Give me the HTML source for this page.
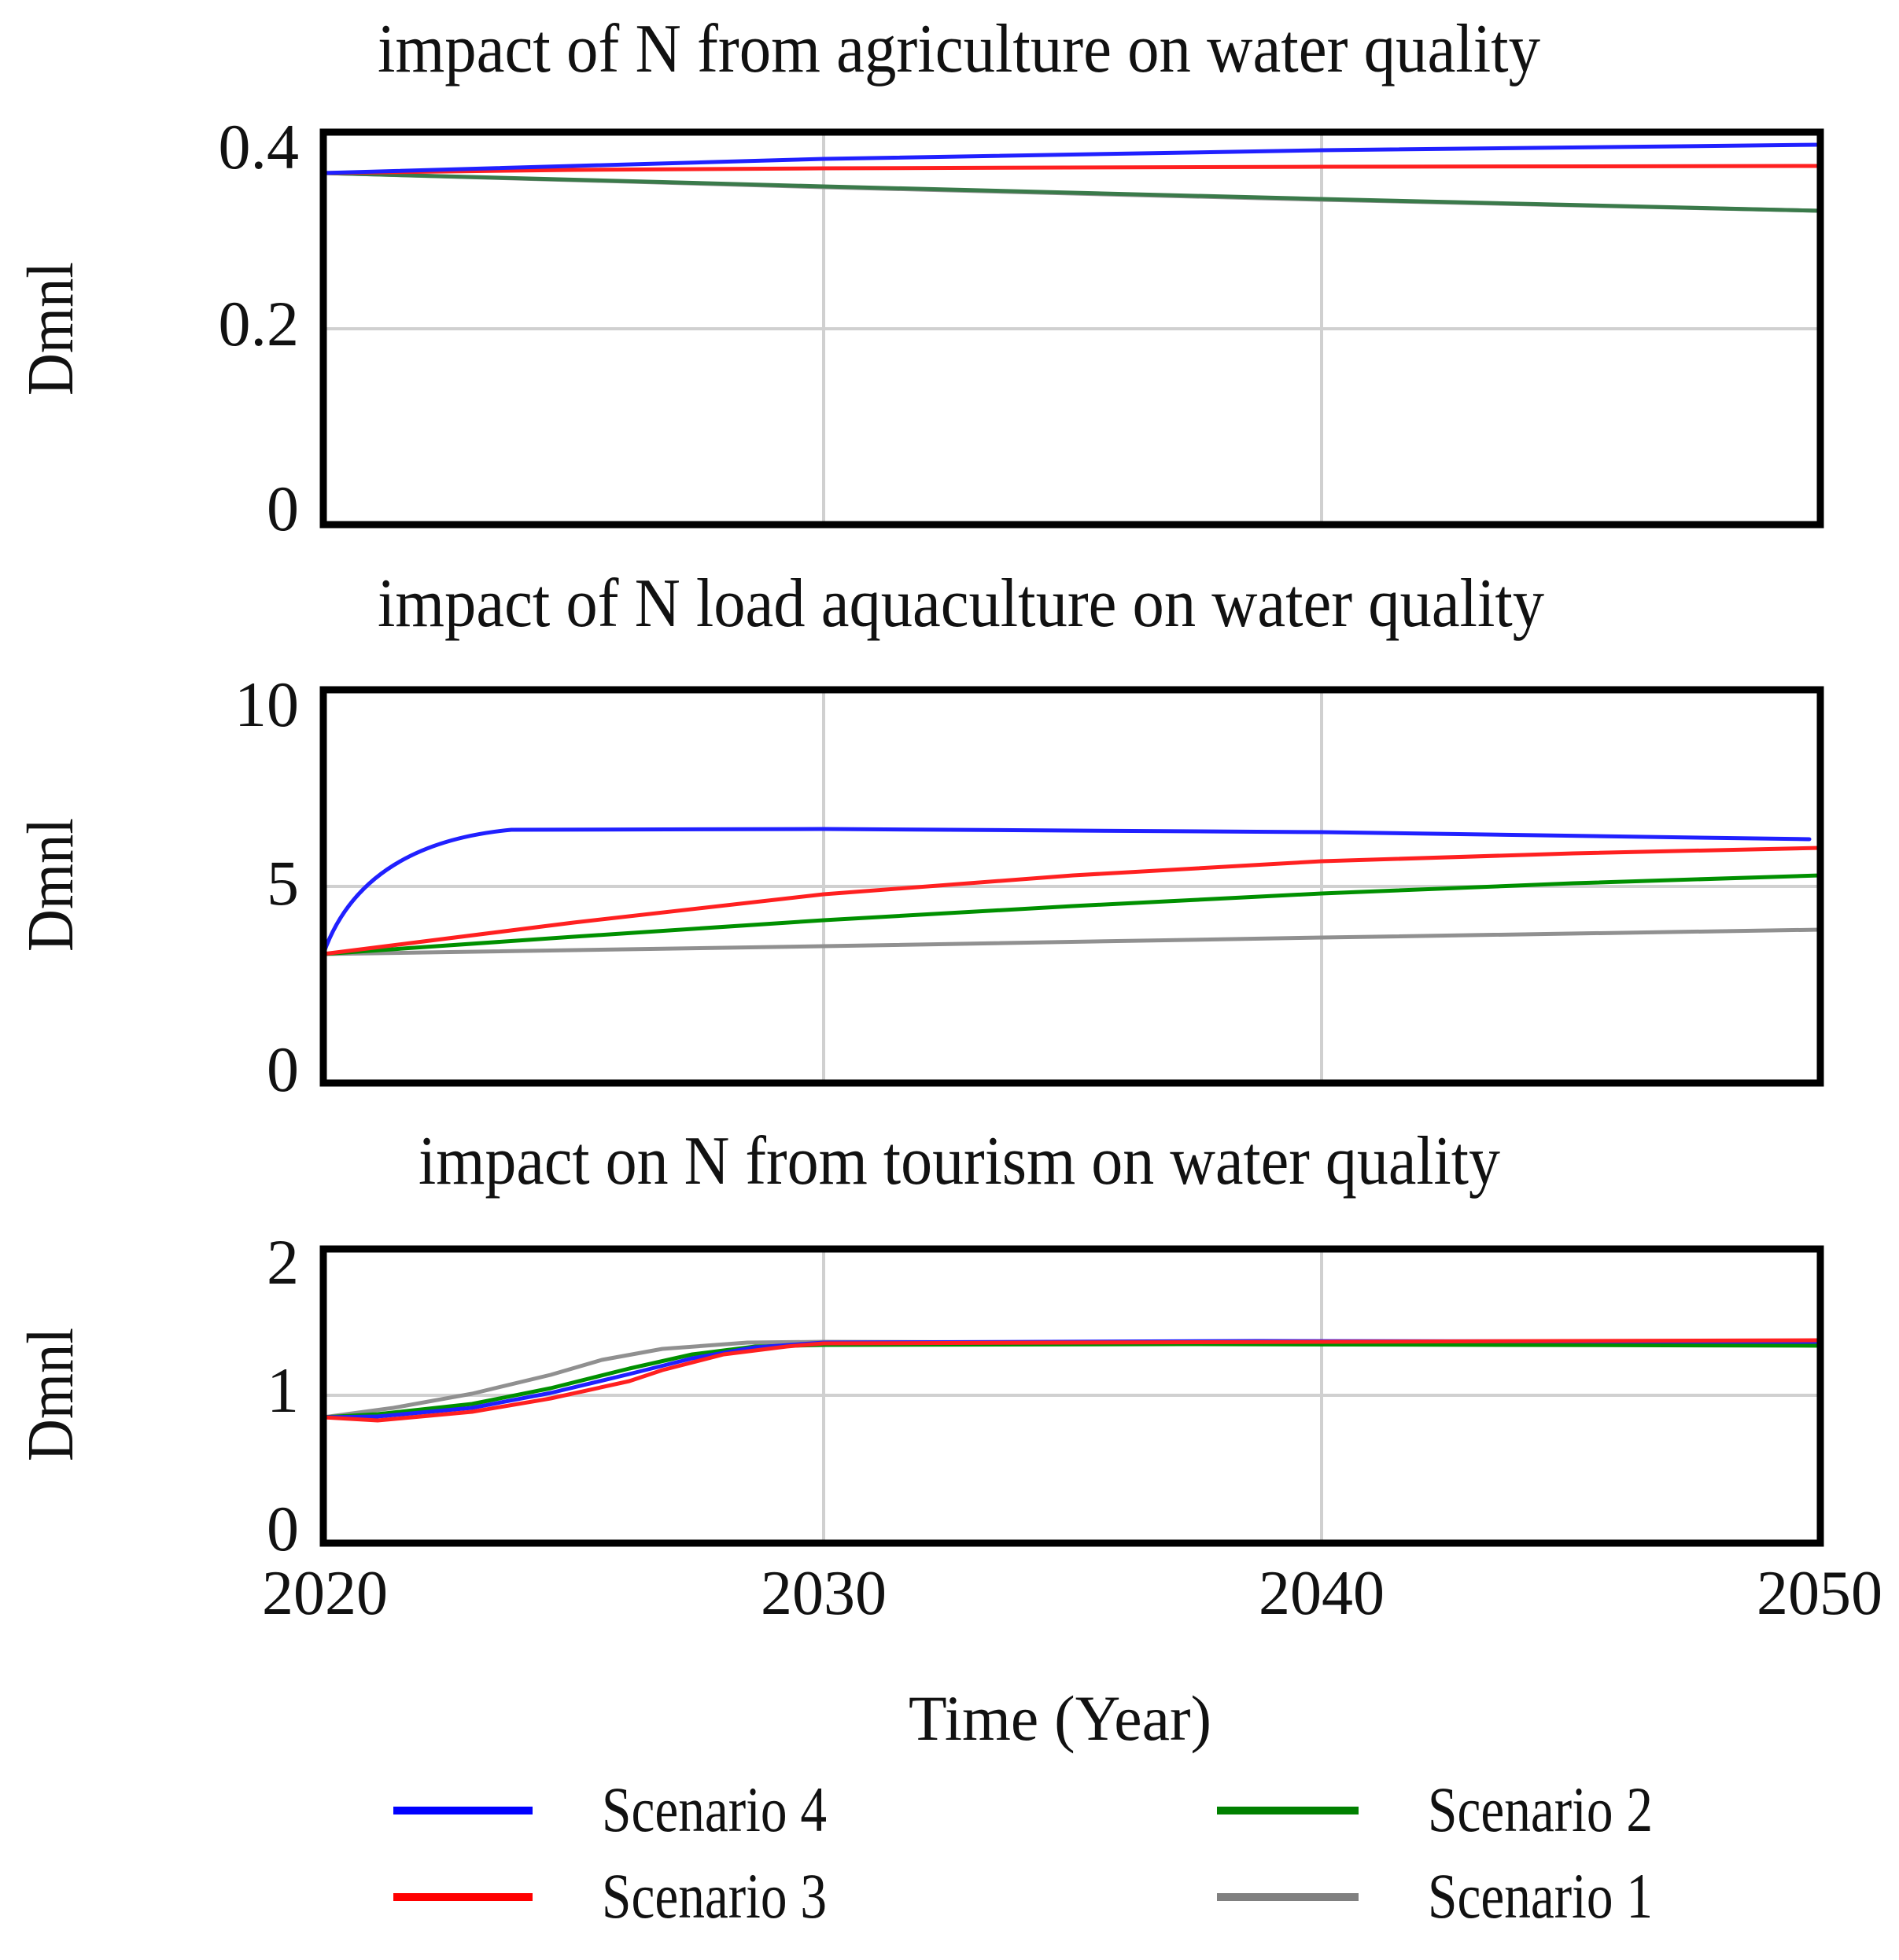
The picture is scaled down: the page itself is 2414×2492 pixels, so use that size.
<!DOCTYPE html>
<html><head><meta charset="utf-8"><style>
html,body{margin:0;padding:0;background:#fff}
svg{display:block}
text{font-family:"Liberation Serif",serif;fill:#111}
</style></head><body>
<svg width="2414" height="2492" viewBox="0 0 2414 2492" xmlns="http://www.w3.org/2000/svg">
<g fill="none" stroke-linejoin="round" stroke-linecap="round">
<g stroke="#d0d0d0" stroke-width="4">
<line x1="1047" y1="168" x2="1047" y2="667"/><line x1="1680" y1="168" x2="1680" y2="667"/>
<line x1="411" y1="418" x2="2314" y2="418"/>
<line x1="1047" y1="877" x2="1047" y2="1377"/><line x1="1680" y1="877" x2="1680" y2="1377"/>
<line x1="411" y1="1127" x2="2314" y2="1127"/>
<line x1="1047" y1="1588" x2="1047" y2="1962"/><line x1="1680" y1="1588" x2="1680" y2="1962"/>
<line x1="411" y1="1774" x2="2314" y2="1774"/>
</g>
<g stroke-width="5">
<polyline stroke="#909090" points="411,220 1047,238 1680,254 2314,268"/>
<polyline stroke="#3a7a4a" points="411,220 1047,237 1680,253 2314,268"/>
<polyline stroke="#ff2020" points="411,220 729,216 1047,214 1680,212 2314,211"/>
<polyline stroke="#2020ff" points="411,220 1047,202 1680,191 2314,184"/>
</g>
<g stroke-width="5">
<polyline stroke="#909090" points="411,1213 1047,1203 1680,1192 2314,1182"/>
<polyline stroke="#009000" points="411,1213 729,1191 1047,1170 1364,1152 1680,1136 2000,1123 2314,1113"/>
<polyline stroke="#ff2020" points="411,1213 729,1173 1047,1137 1364,1113 1680,1095 2000,1085 2314,1078"/>
<path stroke="#2020ff" d="M411,1213 C440,1130 510,1068 650,1055 L1047,1054 L1680,1058 L2300,1067"/>
</g>
<g stroke-width="5">
<polyline stroke="#909090" points="411,1802 500,1790 600,1772 700,1748 765,1729 842,1715 950,1707 1047,1706 2314,1710"/>
<polyline stroke="#009000" points="411,1802 480,1798 600,1785 700,1765 800,1740 880,1722 960,1712 1047,1710 1500,1709 2314,1711"/>
<polyline stroke="#2020ff" points="411,1802 480,1801 600,1790 700,1771 800,1747 880,1727 960,1713 1047,1707 1600,1705 2314,1706"/>
<polyline stroke="#ff2020" points="411,1802 480,1806 600,1795 700,1778 800,1756 842,1742 920,1722 1000,1712 1047,1708 2314,1704"/>
</g>
<g stroke="#000" stroke-width="9" stroke-linejoin="miter">
<rect x="411" y="168" width="1903" height="499"/>
<rect x="411" y="877" width="1903" height="500"/>
<rect x="411" y="1588" width="1903" height="374"/>
</g>
<g stroke-width="10" stroke-linecap="butt">
<line x1="500" y1="2302" x2="677" y2="2302" stroke="#0000ff"/>
<line x1="500" y1="2412" x2="677" y2="2412" stroke="#ff0000"/>
<line x1="1547" y1="2302" x2="1727" y2="2302" stroke="#008000"/>
<line x1="1547" y1="2412" x2="1727" y2="2412" stroke="#808080"/>
</g>
</g>
<text x="480" y="91" font-size="88" textLength="1478" lengthAdjust="spacingAndGlyphs">impact of N from agriculture on water quality</text>
<text x="480" y="796" font-size="88" textLength="1483" lengthAdjust="spacingAndGlyphs">impact of N load aquaculture on water quality</text>
<text x="532" y="1505" font-size="88" textLength="1375" lengthAdjust="spacingAndGlyphs">impact on N from tourism on water quality</text>
<g font-size="82" text-anchor="end">
<text x="380" y="214">0.4</text><text x="380" y="439">0.2</text><text x="380" y="674">0</text>
<text x="380" y="923">10</text><text x="380" y="1150">5</text><text x="380" y="1387">0</text>
<text x="380" y="1632">2</text><text x="380" y="1795">1</text><text x="380" y="1971">0</text>
</g>
<g font-size="84">
<text transform="translate(92,418) rotate(-90)" text-anchor="middle" textLength="170" lengthAdjust="spacingAndGlyphs">Dmnl</text>
<text transform="translate(92,1125) rotate(-90)" text-anchor="middle" textLength="170" lengthAdjust="spacingAndGlyphs">Dmnl</text>
<text transform="translate(92,1773) rotate(-90)" text-anchor="middle" textLength="170" lengthAdjust="spacingAndGlyphs">Dmnl</text>
</g>
<g font-size="80" text-anchor="middle">
<text x="413" y="2052">2020</text><text x="1047" y="2052">2030</text><text x="1680" y="2052">2040</text><text x="2313" y="2052">2050</text>
</g>
<text x="1155" y="2212" font-size="82" textLength="385" lengthAdjust="spacingAndGlyphs">Time (Year)</text>
<g font-size="82">
<text x="765" y="2328" textLength="286" lengthAdjust="spacingAndGlyphs">Scenario 4</text>
<text x="765" y="2438" textLength="286" lengthAdjust="spacingAndGlyphs">Scenario 3</text>
<text x="1815" y="2328" textLength="286" lengthAdjust="spacingAndGlyphs">Scenario 2</text>
<text x="1815" y="2438" textLength="286" lengthAdjust="spacingAndGlyphs">Scenario 1</text>
</g>
</svg>
</body></html>
